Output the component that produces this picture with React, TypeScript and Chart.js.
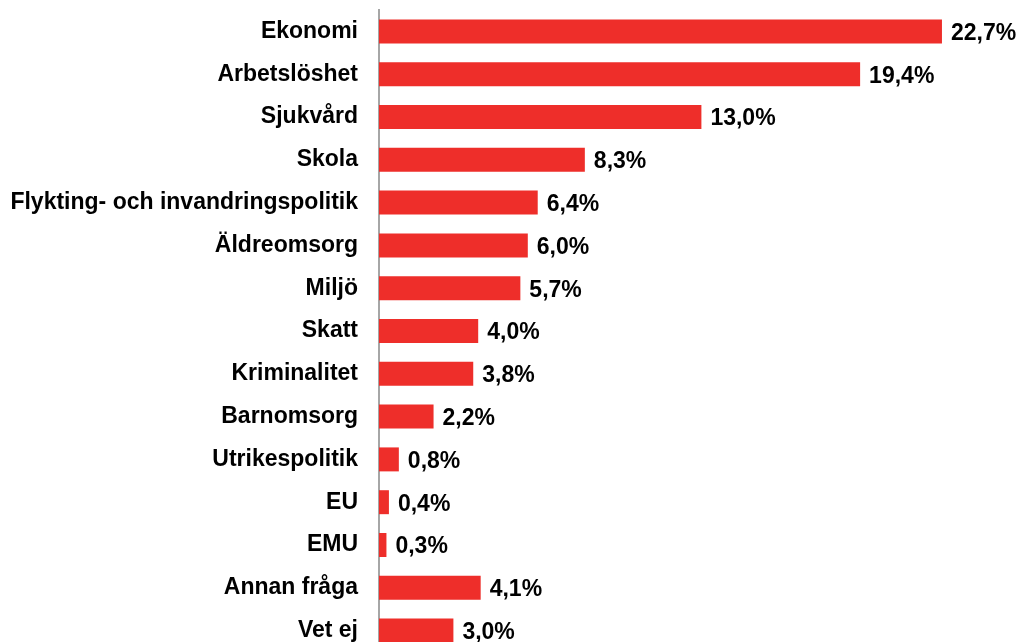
import React, { useEffect, useRef } from "react";
import { Chart, registerables } from "chart.js";

Chart.register(...registerables);

const categories = [
  "Ekonomi",
  "Arbetslöshet",
  "Sjukvård",
  "Skola",
  "Flykting- och invandringspolitik",
  "Äldreomsorg",
  "Miljö",
  "Skatt",
  "Kriminalitet",
  "Barnomsorg",
  "Utrikespolitik",
  "EU",
  "EMU",
  "Annan fråga",
  "Vet ej",
];

const values = [22.7, 19.4, 13.0, 8.3, 6.4, 6.0, 5.7, 4.0, 3.8, 2.2, 0.8, 0.4, 0.3, 4.1, 3.0];

const FONT = "'Liberation Sans', Arial, sans-serif";

const valueLabels = {
  id: "valueLabels",
  afterDatasetsDraw(chart: any) {
    const ctx = chart.ctx;
    const meta = chart.getDatasetMeta(0);
    ctx.save();
    ctx.font = `bold 23px ${FONT}`;
    ctx.fillStyle = "#000";
    ctx.textAlign = "left";
    ctx.textBaseline = "middle";
    meta.data.forEach((bar: any, i: number) => {
      const txt = values[i].toFixed(1).replace(".", ",") + "%";
      ctx.fillText(txt, bar.x + 9, bar.y + 2);
    });
    ctx.restore();
  },
};

export default function App() {
  const ref = useRef<HTMLCanvasElement>(null);
  useEffect(() => {
    document.body.style.margin = "0";
    document.body.style.overflow = "hidden";
    const chart = new Chart(ref.current!, {
      type: "bar",
      data: {
        labels: categories,
        datasets: [
          {
            data: values,
            backgroundColor: "#EE2E2A",
            borderWidth: 0,
            barPercentage: 0.56,
            categoryPercentage: 1,
          },
        ],
      },
      options: {
        indexAxis: "y",
        responsive: false,
        animation: false,
        layout: { padding: { top: 10, right: 20, bottom: 0, left: 0 } },
        plugins: { legend: { display: false }, tooltip: { enabled: false } },
        scales: {
          x: { display: false, min: 0, max: 25 },
          y: {
            afterFit: (scale: any) => {
              scale.width = 379;
              scale.paddingTop = 0;
              scale.paddingBottom = 0;
            },
            grid: { display: false, drawTicks: false },
            border: { display: true, color: "#A6A6A6", width: 2 },
            ticks: {
              padding: 21,
              color: "#000",
              font: { family: FONT, size: 23, weight: "bold" },
            },
          },
        },
      },
      plugins: [valueLabels],
    });
    return () => chart.destroy();
  }, []);
  return (
    <div style={{ width: 1019, height: 642, overflow: "hidden" }}>
      <canvas ref={ref} width={1019} height={652} style={{ display: "block" }} />
    </div>
  );
}
